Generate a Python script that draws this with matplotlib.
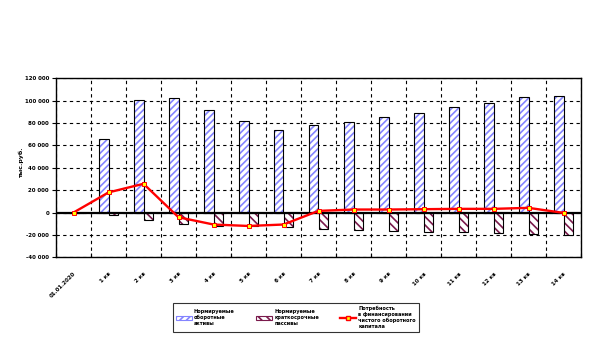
import matplotlib.pyplot as plt
import matplotlib.patches as mpatches
from matplotlib.lines import Line2D
import numpy as np

plt.rcParams['font.family'] = ['DejaVu Sans']
plt.rcParams['hatch.linewidth'] = 1.2

# data, thousand rubles
periods = ['01.01.2020', '1 кв', '2 кв', '3 кв', '4 кв', '5 кв', '6 кв', '7 кв',
           '8 кв', '9 кв', '10 кв', '11 кв', '12 кв', '13 кв', '14 кв']
assets = [0, 66000, 101000, 102000, 92000, 82000, 74000, 78000,
          81000, 85000, 89000, 94000, 98000, 103500, 104500]
liabilities = [0, -2500, -7000, -10500, -12000, -12000, -12500, -14500,
               -15500, -16500, -17300, -17600, -18200, -19100, -20000]
need = [0, 18000, 25700, -4200, -10700, -12000, -10700, 1500,
        2700, 2700, 3000, 3300, 3300, 4200, -300]

yticks = [-40000, -20000, 0, 20000, 40000, 60000, 80000, 100000, 120000]
ytick_labels = ['-40 000', '-20 000', '0', '20 000', '40 000', '60 000',
                '80 000', '100 000', '120 000']

asset_col = '#8484ff'
liab_col = '#7a1a4c'

fig = plt.figure(figsize=(6.13, 3.46), dpi=100)
ax = fig.add_axes([56 / 613, 1 - 257.3 / 346, 525 / 613, (257.3 - 78.3) / 346])

x = np.arange(len(periods))
w = 0.26

# hatched fill first, black outline on top
ax.bar(x - w, assets, w, align='edge', color='white', edgecolor=asset_col, hatch='/////', linewidth=0, zorder=2)
ax.bar(x - w, assets, w, align='edge', fill=False, edgecolor='black', linewidth=0.8, zorder=3)
ax.bar(x, liabilities, w, align='edge', color='white', edgecolor=liab_col, hatch='\\\\\\\\', linewidth=0, zorder=2)
ax.bar(x, liabilities, w, align='edge', fill=False, edgecolor='black', linewidth=0.8, zorder=3)

ax.axhline(0, color='black', linewidth=1.6, zorder=4)
ax.plot(x, need, color='#ff0000', linewidth=1.7, marker='s', markersize=2.6,
        markerfacecolor='#ffff00', markeredgecolor='#ff0000', markeredgewidth=0.7, zorder=5)

ax.set_xlim(-0.5, len(periods) - 0.5)
ax.set_ylim(-40000, 120000)

ax.set_yticks(yticks)
ax.set_yticklabels(ytick_labels, fontsize=4, fontweight='bold')
ax.tick_params(axis='y', direction='out', length=3, width=0.8, pad=2)

# category boundaries carry the ticks and vertical grid
ax.set_xticks(np.arange(len(periods) + 1) - 0.5)
ax.set_xticklabels([])
ax.tick_params(axis='x', direction='in', length=3, width=0.8)
ax.set_xticks(x, minor=True)
ax.set_xticklabels(periods, minor=True, rotation=45, ha='right', va='top',
                   rotation_mode='anchor', fontsize=4, fontweight='bold')
ax.tick_params(axis='x', which='minor', length=0, pad=10)

ax.grid(True, which='major', color='black', linestyle=(0, (3, 3)), linewidth=0.8, zorder=1)
ax.set_axisbelow(True)
for s in ax.spines.values():
    s.set_color('black')
    s.set_linewidth(1.0)

fig.text(21 / 613, 1 - 162 / 346, 'тыс.руб.', rotation=90, fontsize=4.5,
         fontweight='bold', ha='center', va='center')

handles = [
    mpatches.Patch(facecolor='white', edgecolor=asset_col, hatch='/////', linewidth=0.8),
    mpatches.Patch(facecolor='white', edgecolor=liab_col, hatch='\\\\\\\\', linewidth=0.8),
    Line2D([0], [0], color='#ff0000', linewidth=1.7, marker='s', markersize=2.6,
           markerfacecolor='#ffff00', markeredgecolor='#ff0000'),
]
labels = ['Нормируемые\nоборотные\nактивы',
          'Нормируемые\nкраткосрочные\nпассивы',
          'Потребность\nв финансировании\nчистого оборотного\nкапитала']
leg = fig.legend(handles, labels, ncol=3, loc='upper left',
                 bbox_to_anchor=(170 / 613, 1 - 300.5 / 346),
                 prop={'size': 3.6, 'weight': 'bold'}, frameon=True, fancybox=False,
                 edgecolor='black', handlelength=3.2, handleheight=0.8,
                 columnspacing=4.2, borderpad=0.6, handletextpad=0.5, labelspacing=0.2)
leg.get_frame().set_linewidth(0.8)

fig.savefig('out.png', dpi=100)
